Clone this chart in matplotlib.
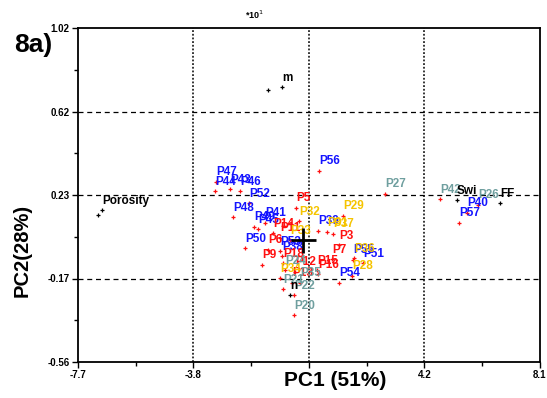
import matplotlib
matplotlib.use("Agg")
import matplotlib.pyplot as plt

plt.rcParams['font.family'] = ['Liberation Sans', 'DejaVu Sans']

# ---- data (PC1, PC2 scores) ----
blue_labels = ["P47", "P44", "P43", "P46", "P52", "P48", "P49", "P41", "P45", "P50",
               "P53", "P38", "P56", "P39", "P55", "P51", "P54", "P40", "P57"]
blue_x = [-2.98, -3.01, -2.50, -2.16, -1.85, -2.40, -1.68, -1.30, -1.54, -1.99,
          -0.79, -0.72, 0.54, 0.51, 1.70, 2.05, 1.23, 5.60, 5.33]
blue_y = [0.292, 0.249, 0.258, 0.249, 0.192, 0.126, 0.079, 0.098, 0.069, -0.021,
          -0.035, -0.059, 0.344, 0.060, -0.077, -0.092, -0.186, 0.145, 0.098]

red_labels = ["P5", "P14", "P11", "P6", "P3", "P7", "P9", "P18", "P15", "P16", "P12", "P13"]
red_x = [-0.24, -1.03, -0.79, -1.20, 1.23, 0.99, -1.41, -0.69, 0.47, 0.51, -0.28, -0.38]
red_y = [0.169, 0.050, 0.027, -0.030, -0.007, -0.073, -0.101, -0.092, -0.125, -0.144, -0.134, -0.186]

gold_labels = ["P29", "P32", "P31", "P37", "P28", "P36", "P33", "P34"]
gold_x = [1.36, -0.14, 0.82, 1.02, 1.67, 1.74, -0.45, -0.79]
gold_y = [0.131, 0.107, 0.055, 0.046, -0.153, -0.068, 0.017, -0.163]

teal_labels = ["P27", "P42", "P26", "P20", "P21", "P22", "P24", "P35"]
teal_x = [2.80, 4.68, 5.98, -0.31, -0.69, -0.31, -0.62, -0.11]
teal_y = [0.235, 0.211, 0.183, -0.338, -0.215, -0.243, -0.125, -0.186]

var_labels = ["Porosity", "", "m", "", "Swi", "FF", "n"]
var_x = [-6.88, -7.02, -0.72, -1.20, 5.26, 6.73, -0.45]
var_y = [0.159, 0.135, 0.741, 0.727, 0.206, 0.192, -0.243]

origin_x = [0.0]
origin_y = [0.017]

x_ticks = [-7.7, -3.75, 0.2, 4.15, 8.1]
x_ticklabels = ["-7.7", "-3.8", "", "4.2", "8.1"]
y_ticks = [-0.56, -0.165, 0.23, 0.625, 1.02]
y_ticklabels = ["-0.56", "-0.17", "0.23", "0.62", "1.02"]

# ---- figure ----
fig = plt.figure(figsize=(5.47, 3.98), dpi=100)
ax = fig.add_axes([78 / 547, 1 - 362 / 398, 462 / 547, 334 / 398])
ax.set_xlim(x_ticks[0], x_ticks[-1])
ax.set_ylim(y_ticks[0], y_ticks[-1])

# grid
for xv in x_ticks[1:-1]:
    ax.axvline(xv, color='black', lw=1.1, linestyle=(0, (1.2, 1.2)), zorder=1)
for yv in y_ticks[1:-1]:
    ax.axhline(yv, color='black', lw=0.9, linestyle=(0, (4, 3)), zorder=1)

groups = [
    (blue_labels, blue_x, blue_y, '#1414ff'),
    (red_labels, red_x, red_y, '#ff1010'),
    (gold_labels, gold_x, gold_y, '#f5c400'),
    (teal_labels, teal_x, teal_y, '#6f9f9f'),
]
for labels, xs, ys, col in groups:
    ax.plot(xs, ys, linestyle='none', marker='+', color='#ff1010', ms=3, mew=0.9, zorder=3)
    for lab, xv, yv in zip(labels, xs, ys):
        ax.annotate(lab, (xv, yv), xytext=(0, 2.5), textcoords='offset points',
                    ha='left', va='bottom', color=col, fontsize=8.5,
                    fontweight='bold', zorder=4)

ax.plot(var_x, var_y, linestyle='none', marker='+', color='black', ms=3, mew=0.9, zorder=3)
for lab, xv, yv in zip(var_labels, var_x, var_y):
    if lab:
        ax.annotate(lab, (xv, yv), xytext=(0, 2.5), textcoords='offset points',
                    ha='left', va='bottom', color='black', fontsize=8.5,
                    fontweight='bold', zorder=4)

ax.plot(origin_x, origin_y, linestyle='none', marker='+', color='black', ms=18, mew=2, zorder=5)

# axes styling
ax.set_xticks(x_ticks)
ax.set_xticklabels(x_ticklabels)
ax.set_yticks(y_ticks)
ax.set_yticklabels(y_ticklabels)
ax.set_xticks([(a + b) / 2 for a, b in zip(x_ticks[:-1], x_ticks[1:])], minor=True)
ax.set_yticks([(a + b) / 2 for a, b in zip(y_ticks[:-1], y_ticks[1:])], minor=True)
ax.tick_params(axis='both', which='major', direction='out', length=4, width=1,
               labelsize=7, pad=2)
ax.tick_params(axis='both', which='minor', direction='out', length=3, width=1)
for lab in ax.get_xticklabels() + ax.get_yticklabels():
    lab.set_fontweight('bold')
for sp in ax.spines.values():
    sp.set_linewidth(1.3)
    sp.set_color('black')

fig.text(335 / 547, 1 - 381 / 398, "PC1 (51%)", ha='center', va='center',
         fontsize=15, fontweight='bold')
fig.text(22 / 547, 1 - 250 / 398, "PC2(28%)", ha='center', va='center',
         rotation=90, fontsize=14.5, fontweight='bold')
fig.text(14 / 547, 1 - 45 / 398, "8a)", ha='left', va='center',
         fontsize=19, fontweight='bold')
fig.text(245 / 547, 1 - 15 / 398, "*10$^{1}$", ha='left', va='center',
         fontsize=6.5, fontweight='bold')

fig.savefig("out.png", dpi=100)
